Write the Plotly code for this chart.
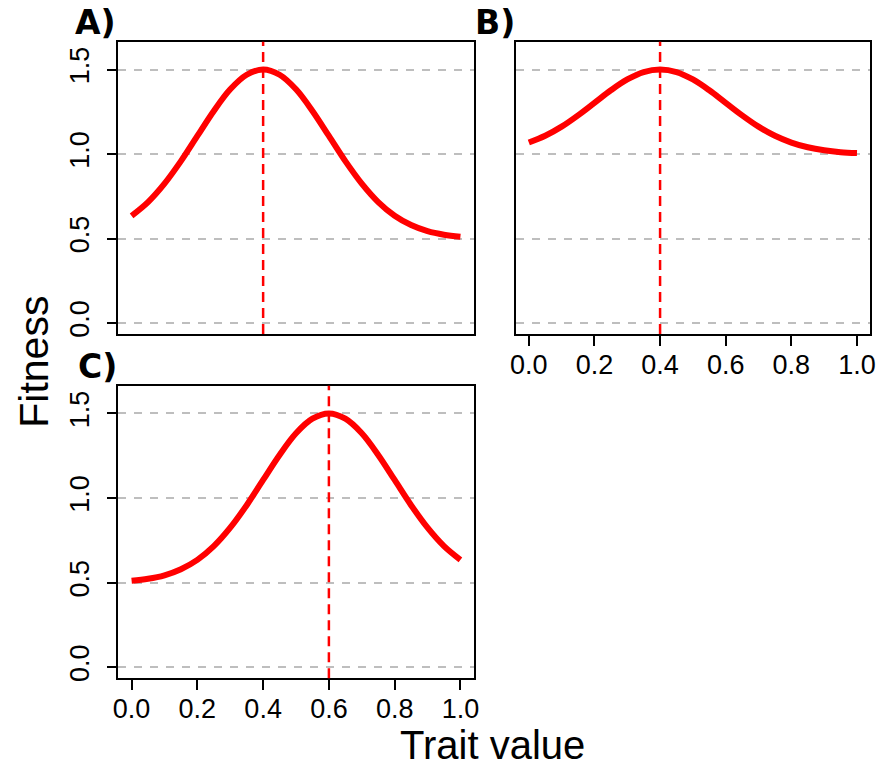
import plotly.graph_objects as go

trait = [0.0, 0.05, 0.10, 0.15, 0.20, 0.25, 0.30, 0.35, 0.40, 0.45, 0.50,
         0.55, 0.60, 0.65, 0.70, 0.75, 0.80, 0.85, 0.90, 0.95, 1.0]
fitness_A = [0.635, 0.716, 0.825, 0.958, 1.107, 1.255, 1.383, 1.469, 1.500, 1.469, 1.383,
             1.255, 1.107, 0.958, 0.825, 0.716, 0.635, 0.580, 0.544, 0.523, 0.511]
fitness_B = [1.068, 1.108, 1.162, 1.229, 1.303, 1.377, 1.441, 1.485, 1.500, 1.485, 1.441,
             1.377, 1.303, 1.229, 1.162, 1.108, 1.068, 1.040, 1.022, 1.011, 1.006]
fitness_C = [0.511, 0.523, 0.544, 0.580, 0.635, 0.716, 0.825, 0.958, 1.107, 1.255, 1.383,
             1.469, 1.500, 1.469, 1.383, 1.255, 1.107, 0.958, 0.825, 0.716, 0.635]
optima = {"A": 0.4, "B": 0.4, "C": 0.6}
panel_labels = ["A)", "B)", "C)"]
x_ticks = [0.0, 0.2, 0.4, 0.6, 0.8, 1.0]
x_ticklabels = ["0.0", "0.2", "0.4", "0.6", "0.8", "1.0"]
y_ticks = [0.0, 0.5, 1.0, 1.5]
y_ticklabels = ["0.0", "0.5", "1.0", "1.5"]

W, H = 884, 771
SANS = "Liberation Sans, Arial, sans-serif"

def px_dom(a, b, total):
    return [a / total, b / total]

fig = go.Figure()

panels = [
    ("A", fitness_A, "x", "y", (114, 474), (42, 335.7), False, True),
    ("B", fitness_B, "x2", "y2", (516.7, 876), (42, 335.7), True, False),
    ("C", fitness_C, "x3", "y3", (114, 474), (387.7, 681.7), True, True),
]

for name, data, xa, ya, (xl, xr), (yt, yb), showx, showy in panels:
    fig.add_trace(go.Scatter(x=trait, y=data, mode="lines", xaxis=xa, yaxis=ya,
                             line=dict(color="#FF0000", width=6, shape="spline"),
                             showlegend=False, hoverinfo="skip"))
    xkey = "xaxis" + xa[1:]
    ykey = "yaxis" + ya[1:]
    fig.layout[xkey] = dict(
        domain=px_dom(xl, xr, W), range=[-0.04, 1.04], anchor=ya,
        showline=True, linecolor="black", linewidth=1.5, mirror=True,
        showgrid=False, zeroline=False,
        tickmode="array", tickvals=x_ticks, ticktext=x_ticklabels,
        ticks="outside" if showx else "", ticklen=10, tickwidth=1.5, tickcolor="black",
        showticklabels=showx, tickfont=dict(family=SANS, size=27, color="black"),
        ticklabelstandoff=-4,
    )
    fig.layout[ykey] = dict(
        domain=[(H - yb) / H, (H - yt) / H], range=[-0.064, 1.664], anchor=xa,
        showline=True, linecolor="black", linewidth=1.5, mirror=True,
        showgrid=True, gridcolor="#BEBEBE", gridwidth=2, griddash="8px,8px",
        zeroline=False,
        tickmode="array", tickvals=y_ticks, ticktext=y_ticklabels,
        ticks="outside" if showy else "", ticklen=10, tickwidth=1.5, tickcolor="black",
        showticklabels=showy, tickangle=-90,
        tickfont=dict(family=SANS, size=27, color="black"),
        ticklabelstandoff=7,
    )
    fig.add_shape(type="line", xref=xa, yref=ya + " domain",
                  x0=optima[name], x1=optima[name], y0=0, y1=1,
                  line=dict(color="#FF0000", width=2.5, dash="10px,6px"))

label_pos = [(68, 23), (473, 23), (71, 368)]
for txt, (lx, ly) in zip(panel_labels, label_pos):
    fig.add_annotation(text="<b>" + txt + "</b>", xref="paper", yref="paper",
                       x=lx / W, y=(H - ly) / H, xanchor="left", yanchor="middle",
                       showarrow=False,
                       font=dict(family="DejaVu Sans", size=33, color="black"))

fig.add_annotation(text="Fitness", xref="paper", yref="paper", x=28 / W, y=(H - 364) / H,
                   xanchor="center", yanchor="middle", textangle=-90, showarrow=False,
                   font=dict(family=SANS, size=41, color="black"))
fig.add_annotation(text="Trait value", xref="paper", yref="paper", x=493 / W, y=(H - 749) / H,
                   xanchor="center", yanchor="middle", showarrow=False,
                   font=dict(family=SANS, size=40, color="black"))

fig.update_layout(width=W, height=H, margin=dict(l=0, r=0, t=0, b=0),
                  plot_bgcolor="white", paper_bgcolor="white")

fig.write_html("out.html", config={"displayModeBar": False},
               post_script="document.body.style.margin='0';document.body.style.overflow='hidden';")
